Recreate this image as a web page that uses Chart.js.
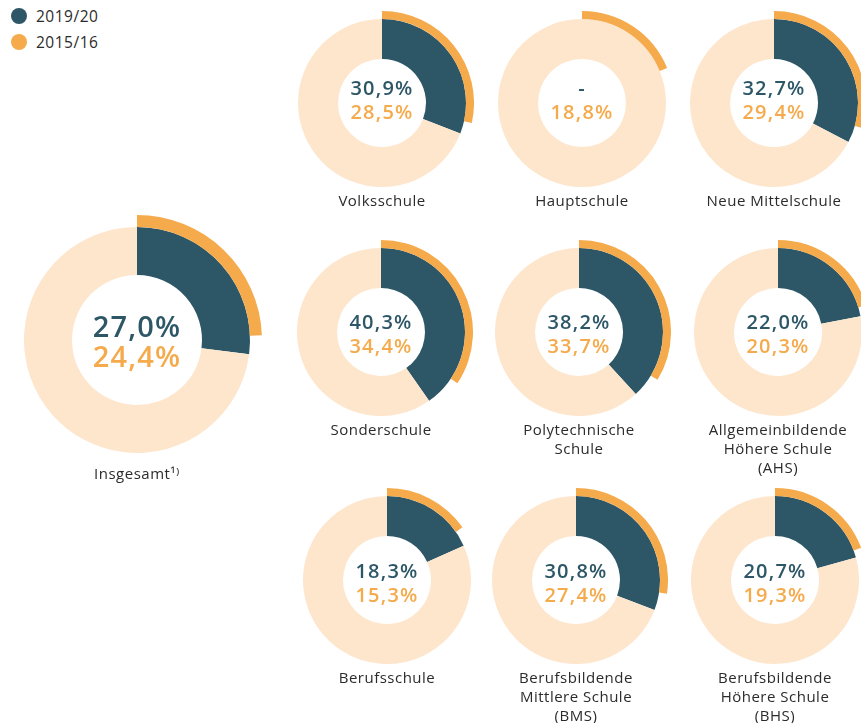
<!DOCTYPE html>
<html lang="de">
<head>
<meta charset="utf-8">
<title>Anteil 2019/20 und 2015/16 nach Schultyp</title>
<script src="https://cdn.jsdelivr.net/npm/chart.js@4.4.1/dist/chart.umd.min.js"></script>
<style>
    html, body {
        margin: 0;
        padding: 0;
        background: #ffffff;
    }
    #stage {
        position: relative;
        width: 861px;
        height: 723px;
        overflow: hidden;
        font-family: "Open Sans", sans-serif;
        color: #2b2b2b;
    }
    .donut {
        position: absolute;
    }
    .center {
        position: absolute;
        text-align: center;
        font-weight: 600;
        white-space: nowrap;
        transform: translate(-50%, -50%);
        letter-spacing: 1.2px;
    }
    .center div {
        line-height: 24px;
    }
    .center.big div {
        line-height: 30px;
    }
    .label {
        position: absolute;
        width: 200px;
        text-align: center;
        font-size: 15px;
        line-height: 19px;
        letter-spacing: 0.5px;
        transform: translateX(-50%);
    }
    .legend {
        position: absolute;
        left: 11px;
        top: 3px;
        font-size: 15.5px;
        letter-spacing: 0.5px;
    }
    .legend div {
        height: 26px;
        display: flex;
        align-items: center;
    }
    .legend span.dot {
        display: inline-block;
        width: 16px;
        height: 16px;
        border-radius: 50%;
        margin-right: 9px;
    }
</style>
</head>
<body>
<div id="stage"></div>

<script>
/* =========================
   DATA
========================= */

const schoolLabels = [
    ["Volksschule"],
    ["Hauptschule"],
    ["Neue Mittelschule"],
    ["Sonderschule"],
    ["Polytechnische", "Schule"],
    ["Allgemeinbildende", "Höhere Schule", "(AHS)"],
    ["Berufsschule"],
    ["Berufsbildende", "Mittlere Schule", "(BMS)"],
    ["Berufsbildende", "Höhere Schule", "(BHS)"]
];

const values2019 = [30.9, null, 32.7, 40.3, 38.2, 22.0, 18.3, 30.8, 20.7];

const values2015 = [28.5, 18.8, 29.4, 34.4, 33.7, 20.3, 15.3, 27.4, 19.3];

const totalLabel = "Insgesamt¹⁾";
const total2019 = 27.0;
const total2015 = 24.4;

const seriesNames = ["2019/20", "2015/16"];

/* =========================
   LAYOUT / COLOURS
========================= */

const TEAL = "#2d5767";
const ORANGE = "#f5aa4c";
const PEACH = "#fee6cd";

// centre of each small donut
const smallCenters = [
    [382, 103], [582, 103], [774, 103],
    [381, 332], [579, 332], [778, 332],
    [387, 580], [576, 580], [775, 580]
];
const textShift = [-3, -3, -3, 2, 2, 2, 3, 3, 3];

const SMALL = { radius: 92, cutout: "47.8%", weights: [1, 5], font: 20 };
const BIG = { radius: 125, cutout: "52%", weights: [1, 4], font: 29 };

const stage = document.getElementById("stage");

/* =========================
   HELPERS
========================= */

function formatValue(v) {

    if (v === null) {
        return "-";
    }

    return v.toFixed(1).replace(".", ",") + "%";

}

function createDonut(cx, cy, size, v2019, v2015) {

    const canvas = document.createElement("canvas");

    canvas.className = "donut";
    canvas.width = size.radius * 2;
    canvas.height = size.radius * 2;
    canvas.style.left = (cx - size.radius) + "px";
    canvas.style.top = (cy - size.radius) + "px";

    stage.appendChild(canvas);

    const current = v2019 === null ? 0 : v2019;

    return new Chart(canvas, {

        type: "doughnut",

        data: {

            labels: ["Anteil", "Rest"],

            datasets: [
                {
                    label: seriesNames[1],
                    data: [v2015, 100 - v2015],
                    backgroundColor: [ORANGE, "rgba(0,0,0,0)"],
                    borderWidth: 0,
                    hoverOffset: 0,
                    weight: size.weights[0]
                },
                {
                    label: seriesNames[0],
                    data: [current, 100 - current],
                    backgroundColor: [TEAL, PEACH],
                    borderWidth: 0,
                    hoverOffset: 0,
                    weight: size.weights[1]
                }
            ]

        },

        options: {

            responsive: false,
            animation: false,
            events: [],
            cutout: size.cutout,
            layout: { padding: 0 },

            plugins: {
                legend: { display: false },
                tooltip: { enabled: false }
            }

        }

    });

}

function addCenterText(cx, cy, size, v2019, v2015, big) {

    const box = document.createElement("div");

    box.className = "center" + (big ? " big" : "");
    box.style.left = cx + "px";
    box.style.top = cy + "px";
    box.style.fontSize = size.font + "px";

    const a = document.createElement("div");
    a.style.color = TEAL;
    a.textContent = formatValue(v2019);

    const b = document.createElement("div");
    b.style.color = ORANGE;
    b.textContent = formatValue(v2015);

    box.appendChild(a);
    box.appendChild(b);
    stage.appendChild(box);

}

function addLabel(cx, top, lines) {

    const el = document.createElement("div");

    el.className = "label";
    el.style.left = cx + "px";
    el.style.top = top + "px";
    el.innerHTML = lines.join("<br>");

    stage.appendChild(el);

}

/* =========================
   LEGEND
========================= */

function createLegend() {

    const legend = document.createElement("div");
    legend.className = "legend";

    [TEAL, ORANGE].forEach((color, i) => {

        const row = document.createElement("div");
        const dot = document.createElement("span");

        dot.className = "dot";
        dot.style.background = color;

        row.appendChild(dot);
        row.appendChild(document.createTextNode(seriesNames[i]));
        legend.appendChild(row);

    });

    stage.appendChild(legend);

}

/* =========================
   BUILD
========================= */

createLegend();

createDonut(137, 340, BIG, total2019, total2015);
addCenterText(137, 341, BIG, total2019, total2015, true);
addLabel(137, 464, [totalLabel]);

schoolLabels.forEach((lines, i) => {

    const [cx, cy] = smallCenters[i];

    createDonut(cx, cy, SMALL, values2019[i], values2015[i]);

    addCenterText(cx, cy + textShift[i], SMALL, values2019[i], values2015[i], false);

    addLabel(cx, cy + 88, lines);

});
</script>
</body>
</html>
